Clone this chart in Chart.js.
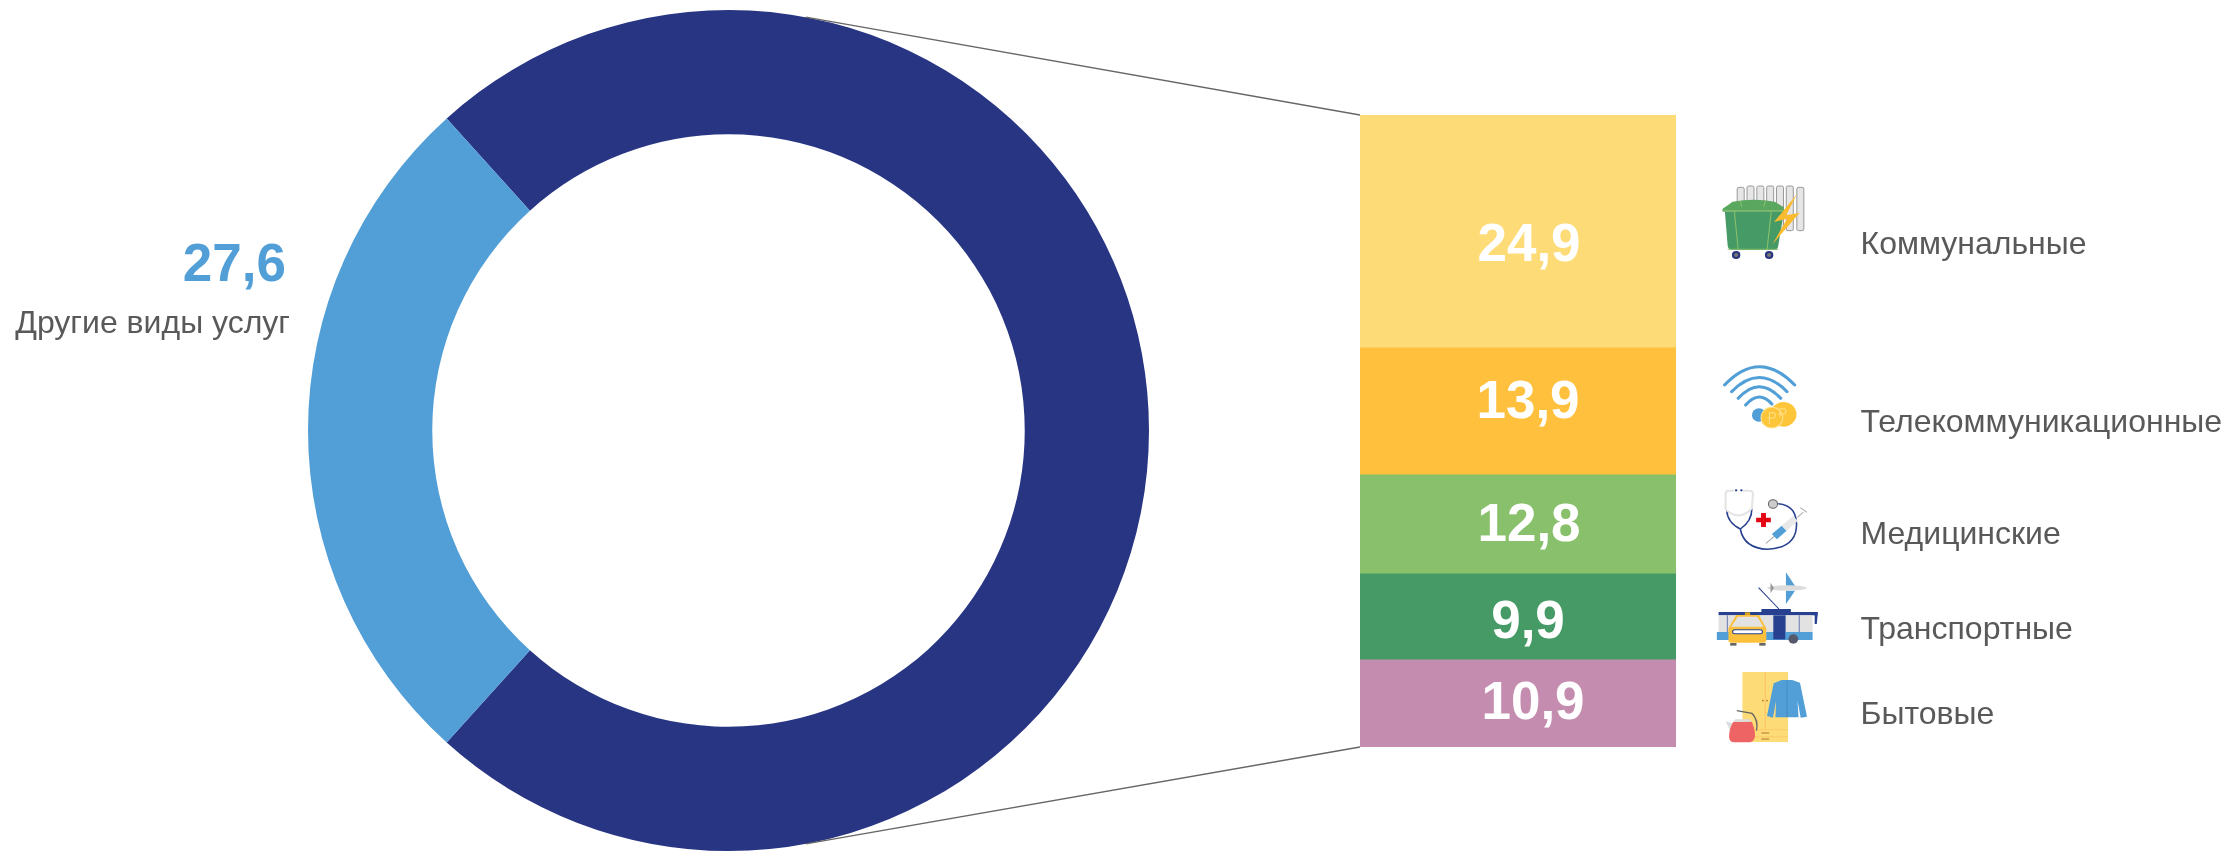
<!DOCTYPE html>
<html lang="ru"><head><meta charset="utf-8">
<script src="https://cdn.jsdelivr.net/npm/chart.js@4"></script>
<style>
html,body{margin:0;padding:0;background:#fff;width:2230px;height:851px;overflow:hidden}
canvas{position:absolute;left:0;top:0}
svg{position:absolute;left:0;top:0}
</style></head><body>
<canvas id="ring" width="2230" height="851"></canvas>
<canvas id="stack" width="2230" height="851"></canvas>
<svg width="2230" height="851" viewBox="0 0 2230 851">
<g transform="translate(1680 100) scale(.3508 .33333)">
  <g fill="#e6e6e6" stroke="#8a8a8a" stroke-width="2.5">
    <rect x="163" y="262" width="20" height="130" rx="5"/><rect x="191" y="258" width="20" height="134" rx="5"/><rect x="219" y="258" width="20" height="134" rx="5"/><rect x="247" y="258" width="20" height="134" rx="5"/><rect x="275" y="258" width="20" height="134" rx="5"/><rect x="303" y="258" width="20" height="134" rx="5"/><rect x="333" y="262" width="20" height="130" rx="5"/>
  </g>
  <path d="M122 335Q117 325 130 320L150 305Q210 293 270 305L296 322V335Z" fill="#5aa75f"/>
  <path d="M128 335H296L280 438Q278 450 268 450H150Q138 450 136 438Z" fill="#469a65"/>
  <path d="M122 332H296M155 335L166 450M260 335L248 450M172 303L176 320M244 303L238 320M136 448H280" stroke="#89c06c" stroke-width="3" fill="none"/>
  <circle cx="160" cy="465" r="12" fill="#28347f"/><circle cx="160" cy="465" r="6" fill="#777"/>
  <circle cx="254" cy="465" r="12" fill="#28347f"/><circle cx="254" cy="465" r="6" fill="#777"/>
  <path d="M333 283L268 366L305 356L264 432L341 338L303 346Z" fill="#fbbb2e"/>
  <g fill="none" stroke="#529fd8" stroke-width="9" stroke-linecap="round">
    <path d="M127 855Q226 745 327 855"/><path d="M147 875Q226 790 305 875"/><path d="M166 895Q226 825 287 895"/><path d="M187 915Q226 868 262 912"/>
  </g>
  <circle cx="225" cy="945" r="20" fill="#529fd8"/>
  <circle cx="295" cy="943" r="37" fill="#fdc63a"/>
  <circle cx="262" cy="953" r="31" fill="#fdc63a" stroke="#ffe08a" stroke-width="3"/>
  <path d="M255 972V938H268Q276 946 268 954H250M285 950V926H298Q306 934 298 942H281" fill="none" stroke="#ffe08a" stroke-width="3"/>
</g>
<g transform="translate(1680 460) scale(.3508 .33333)">
  <path d="M133 150Q135 188 172 207Q205 185 205 145M172 207Q182 265 250 268Q335 262 332 190Q330 135 280 131" fill="none" stroke="#27408f" stroke-width="4.5"/>
  <path d="M130 150V102Q130 92 140 92H154M180 92H198Q208 92 208 102L205 145Q170 185 132 150" fill="none" stroke="#e4e4e4" stroke-width="6"/>
  <circle cx="160" cy="91" r="3.5" fill="#27408f"/><circle cx="175" cy="91" r="3.5" fill="#27408f"/>
  <circle cx="265" cy="132" r="13" fill="#ccc" stroke="#666" stroke-width="3"/>
  <path d="M217 173H231V159H245V173H259V187H245V201H231V187H217Z" fill="#e30613"/>
  <path d="M245 250L272 226M335 172L352 156M343 143L362 157" stroke="#aaa" stroke-width="3" fill="none"/>
  <path d="M262 222L290 197L304 212L276 238Z" fill="#529fd8"/>
  <path d="M290 197L322 168L336 182L304 212Z" fill="#e8e8e8"/>
  <path d="M302 337L328 378H302ZM302 432L328 392H302Z" fill="#529fd8"/>
  <ellipse cx="305" cy="384" rx="56" ry="8" fill="#dcdcdc"/>
  <path d="M258 368L268 384L258 400Z" fill="#999"/>
  <path d="M224 383L282 447" stroke="#27408f" stroke-width="3"/>
  <rect x="232" y="447" width="84" height="12" fill="#27408f"/>
  <rect x="110" y="456" width="282" height="10" fill="#27408f"/>
  <rect x="110" y="466" width="268" height="52" fill="#e2e2e2"/>
  <path d="M340 466V516M135 466V516M300 466V516" stroke="#6f7fb5" stroke-width="3"/>
  <rect x="105" y="516" width="273" height="24" fill="#529fd8"/>
  <rect x="266" y="466" width="34" height="72" fill="#27408f"/>
  <path d="M384 456H393L390 492H384Z" fill="#27408f"/>
  <circle cx="323" cy="537" r="14" fill="#55596b"/>
  <rect x="185" y="457" width="15" height="9" fill="#d6a11f"/>
  <path d="M160 465H225L246 505V540Q246 548 238 548H146Q138 548 138 540V505Z" fill="#fbc13d"/>
  <path d="M165 470H220L238 500H146Z" fill="#e2e2e2"/>
  <rect x="150" y="509" width="85" height="12" rx="6" fill="#fff" stroke="#27408f" stroke-width="3"/>
  <rect x="143" y="549" width="18" height="8" fill="#666"/><rect x="226" y="549" width="18" height="8" fill="#666"/>
  <rect x="178" y="636" width="130" height="210" fill="#fddb76"/>
  <path d="M243 636V808" stroke="#fbc96a" stroke-width="4"/>
  <path d="M178 809H308M178 830H308" stroke="#fbc96a" stroke-width="3"/>
  <path d="M232 819H254M232 837H254" stroke="#b5722e" stroke-width="3"/>
  <circle cx="236" cy="722" r="2.5" fill="#b5722e"/><circle cx="248" cy="722" r="2.5" fill="#b5722e"/>
  <path d="M290 660H320L342 668L362 770L344 773L335 722L338 772H272L274 722L265 773L248 768L267 670Z" fill="#529fd8"/>
  <path d="M305 662V772" stroke="#3d7fb5" stroke-width="2"/>
  <path d="M150 790L130 784L143 812Z" fill="#ddd"/>
  <path d="M162 752L205 760Q224 780 218 812" fill="none" stroke="#666" stroke-width="4"/>
  <path d="M152 785H205Q218 820 212 836Q207 847 195 847H155Q140 847 140 830Q140 805 152 785Z" fill="#ee6464"/>
  <path d="M158 778H200L204 785H152Z" fill="#ddd"/>
</g>
</svg>
<script>
// Numbers printed in the reference.
const otherValue = 27.6;
const otherLabel = 'Другие виды услуг';
const categories = ['Коммунальные','Телекоммуникационные','Медицинские','Транспортные','Бытовые'];
const printedValues = [24.9, 13.9, 12.8, 9.9, 10.9];
// The reference's marks are not strictly proportional to its printed numbers,
// so the mark lengths are read off the picture separately (same 0-72.4 and 0-100 units).
const drawnLengths = [26.6, 14.55, 11.34, 9.85, 10.06];
const ringLabels = ['Платные услуги', otherLabel];
const ringDrawn = [73.38, 26.62];
const ringColors = ['#283583','#529fd8'];
const barColors = ['#fddb76','#ffc13d','#89c06c','#469a65','#c48daf'];
const textGrey = '#595959';
const fontFamily = '"Liberation Sans", Arial, sans-serif';
const comma = v => v.toFixed(1).replace('.', ',');

Chart.defaults.animation = false;

const ring = new Chart(document.getElementById('ring'), {
  type: 'doughnut',
  data: { labels: ringLabels, datasets: [{ data: ringDrawn, backgroundColor: ringColors, borderWidth: 0 }] },
  options: {
    responsive: false, devicePixelRatio: 1, cutout: '70.45%',
    rotation: 90 - ringDrawn[0] * 1.8,
    layout: { padding: { left: 307, right: 1080, top: 10, bottom: -2 } },
    plugins: { legend: { display: false }, tooltip: { enabled: false } }
  },
  plugins: [{
    id: 'otherText',
    afterDraw(c) {
      const x = c.ctx; x.save(); x.textAlign = 'right'; x.textBaseline = 'alphabetic';
      x.fillStyle = ringColors[1]; x.font = 'bold 53px ' + fontFamily;
      x.fillText(comma(otherValue), 286, 281);
      x.fillStyle = textGrey; x.font = '32px ' + fontFamily;
      x.fillText(otherLabel, 290, 333);
      x.restore();
    }
  }]
});

new Chart(document.getElementById('stack'), {
  type: 'bar',
  data: {
    labels: ['Платные услуги'],
    datasets: categories.map((name, i) => ({ label: name, data: [drawnLengths[i]], backgroundColor: barColors[i], borderWidth: 0 }))
  },
  options: {
    responsive: false, devicePixelRatio: 1,
    barPercentage: 1, categoryPercentage: 1,
    layout: { padding: { left: 1360, right: 554, top: 115, bottom: 104 } },
    scales: {
      x: { stacked: true, display: false },
      y: { stacked: true, display: false, reverse: true, min: 0, max: drawnLengths.reduce((a, b) => a + b, 0) }
    },
    plugins: { legend: { display: false }, tooltip: { enabled: false } }
  },
  plugins: [{
    id: 'connectorsAndText',
    afterDatasetsDraw(c) {
      const x = c.ctx, a = c.chartArea, arc = ring.getDatasetMeta(0).data[0];
      const t = 10.6 * Math.PI / 180;
      const dx = arc.outerRadius * Math.sin(t), dy = arc.outerRadius * Math.cos(t);
      x.save();
      x.strokeStyle = '#666'; x.lineWidth = 1.3;
      x.beginPath();
      x.moveTo(arc.x + dx, arc.y - dy); x.lineTo(a.left, a.top);
      x.moveTo(arc.x + dx, arc.y + dy); x.lineTo(a.left, a.bottom);
      x.stroke();
      const nudgeY = [15, -7, 3, 7, 1], nudgeX = [11, 10, 11, 10, 15];
      categories.forEach((name, i) => {
        const bar = c.getDatasetMeta(i).data[0];
        const cy = (bar.y + bar.base) / 2;
        x.fillStyle = '#fff'; x.font = 'bold 53px ' + fontFamily;
        x.textAlign = 'center'; x.textBaseline = 'middle';
        x.fillText(comma(printedValues[i]), (a.left + a.right) / 2 + nudgeX[i], cy + nudgeY[i]);
      });
      const nameY = [254, 432, 544, 639, 724];
      x.fillStyle = textGrey; x.font = '32px ' + fontFamily;
      x.textAlign = 'left'; x.textBaseline = 'alphabetic';
      categories.forEach((name, i) => x.fillText(name, 1860.5, nameY[i]));
      x.restore();
    }
  }]
});
</script>
</body></html>
